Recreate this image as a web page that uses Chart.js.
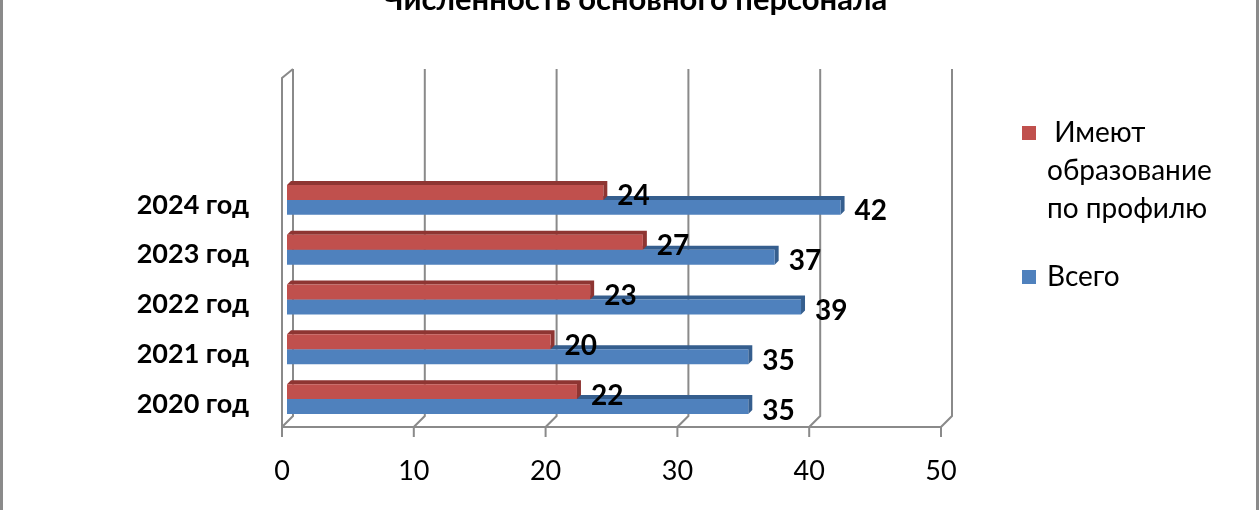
<!DOCTYPE html>
<html>
<head>
<meta charset="utf-8">
<script src="https://cdn.jsdelivr.net/npm/chart.js@4"></script>
<style>
    body { margin: 0; background: #fff; }
    canvas { display: block; }
</style>
</head>
<body>
<canvas id="chart01" width="1260" height="510"></canvas>
<script>
const title = 'Численность основного персонала';
const years = ['2020 год', '2021 год', '2022 год', '2023 год', '2024 год'];
const profile = [22, 20, 23, 27, 24];
const total = [35, 35, 39, 37, 42];
const x_ticks = [0, 10, 20, 30, 40, 50];

const FONT = 'Lato, "Open Sans", sans-serif';
const DEPTH = 4;
const SHIFT = 5; // bars sit a little behind the front edge of the floor

(function () {

    const datasets = [
        {
            label: ' Имеют\nобразование\nпо профилю',
            data: profile,
            backgroundColor: '#C0504D',
            side: '#8E3532'
        },
        {
            label: 'Всего',
            data: total,
            backgroundColor: '#4F81BD',
            side: '#355E8E'
        }
    ];

    // 3D walls, grid lines, title, legend and frame
    const decor = {
        id: 'decor',
        beforeDatasetsDraw(chart) {
            const ctx = chart.ctx;
            const xs = chart.scales.x;
            const px = v => xs.getPixelForValue(v) - SHIFT;
            const top = 69, backBottom = 416, front = 427;
            const dx = 11;
            ctx.save();
            ctx.strokeStyle = '#8a8a8a';
            ctx.lineWidth = 2;
            ctx.beginPath();
            // left side wall
            const x0 = px(0);
            ctx.moveTo(x0, front + 10);
            ctx.lineTo(x0, top + 9);
            ctx.lineTo(x0 + dx, top);
            // grid lines on the back wall + floor
            x_ticks.forEach(v => {
                const x = px(v);
                ctx.moveTo(x + dx, top);
                ctx.lineTo(x + dx, backBottom);
                ctx.lineTo(x, front);
                ctx.lineTo(x, front + 10);
            });
            ctx.moveTo(x0, front);
            ctx.lineTo(px(50), front);
            ctx.stroke();

            // bar tops and ends
            for (let d = chart.data.datasets.length - 1; d >= 0; d--) {
                const meta = chart.getDatasetMeta(d);
                const side = chart.data.datasets[d].side;
                meta.data.forEach(bar => {
                    const {x, y, base, height} = bar.getProps(['x', 'y', 'base', 'height']);
                    const t = y - height / 2, b = y + height / 2;
                    ctx.fillStyle = side;
                    ctx.beginPath();
                    ctx.moveTo(base, t);
                    ctx.lineTo(base + DEPTH, t - DEPTH);
                    ctx.lineTo(x + DEPTH, t - DEPTH);
                    ctx.lineTo(x + DEPTH, b - DEPTH);
                    ctx.lineTo(x, b);
                    ctx.lineTo(x, t);
                    ctx.closePath();
                    ctx.fill();
                });
            }
            ctx.restore();
        },
        afterDatasetsDraw(chart) {
            const ctx = chart.ctx;
            ctx.save();
            ctx.fillStyle = '#000';
            ctx.font = 'bold 28px ' + FONT;
            ctx.textAlign = 'left';
            ctx.textBaseline = 'middle';
            chart.data.datasets.forEach((ds, d) => {
                chart.getDatasetMeta(d).data.forEach((bar, i) => {
                    const {x, y} = bar.getProps(['x', 'y']);
                    ctx.fillText(ds.data[i], x + DEPTH + 10, y + 4);
                });
            });

            // title (cut off at the top edge)
            ctx.textAlign = 'center';
            ctx.textBaseline = 'alphabetic';
            ctx.font = 'bold 31px ' + FONT;
            ctx.fillText(title, 635, 10);

            // legend
            ctx.font = '28px ' + FONT;
            ctx.textAlign = 'left';
            ctx.textBaseline = 'middle';
            const lx = 1022;
            const rows = [133, 277];
            chart.data.datasets.forEach((ds, d) => {
                const y0 = rows[d];
                ctx.fillStyle = ds.backgroundColor;
                ctx.fillRect(lx, y0 - 7, 14, 14);
                ctx.fillStyle = '#000';
                ds.label.split('\n').forEach((line, k) => {
                    ctx.fillText(line, lx + 25, y0 + k * 38);
                });
            });

            // outer frame
            ctx.fillStyle = '#8a8a8a';
            ctx.fillRect(0, 0, 3, 510);
            ctx.fillRect(1256, 0, 3, 510);
            ctx.restore();
        }
    };

    new Chart(
        document.getElementById('chart01'),
        {
            type: 'bar',
            data: {
                labels: years,
                datasets: datasets
            },
            options: {
                indexAxis: 'y',
                responsive: false,
                animation: false,
                devicePixelRatio: 1,
                layout: {
                    padding: {left: 0, right: 314, top: 175, bottom: 0}
                },
                datasets: {
                    bar: {
                        categoryPercentage: 0.6,
                        barPercentage: 1.0
                    }
                },
                plugins: {
                    legend: {display: false},
                    tooltip: {enabled: false}
                },
                scales: {
                    x: {
                        min: 0,
                        max: 50,
                        afterFit(s) { s.height = 86; },
                        grid: {display: false},
                        border: {display: false},
                        ticks: {
                            stepSize: 10,
                            padding: 23,
                            labelOffset: -SHIFT,
                            color: '#000',
                            font: {family: FONT, size: 27}
                        }
                    },
                    y: {
                        reverse: true,
                        afterFit(s) { s.width = 287; },
                        grid: {display: false},
                        border: {display: false},
                        ticks: {
                            padding: 30,
                            labelOffset: 5,
                            color: '#000',
                            font: {family: FONT, size: 27, weight: 'bold'}
                        }
                    }
                }
            },
            plugins: [decor]
        }
    );
})();
</script>
</body>
</html>
